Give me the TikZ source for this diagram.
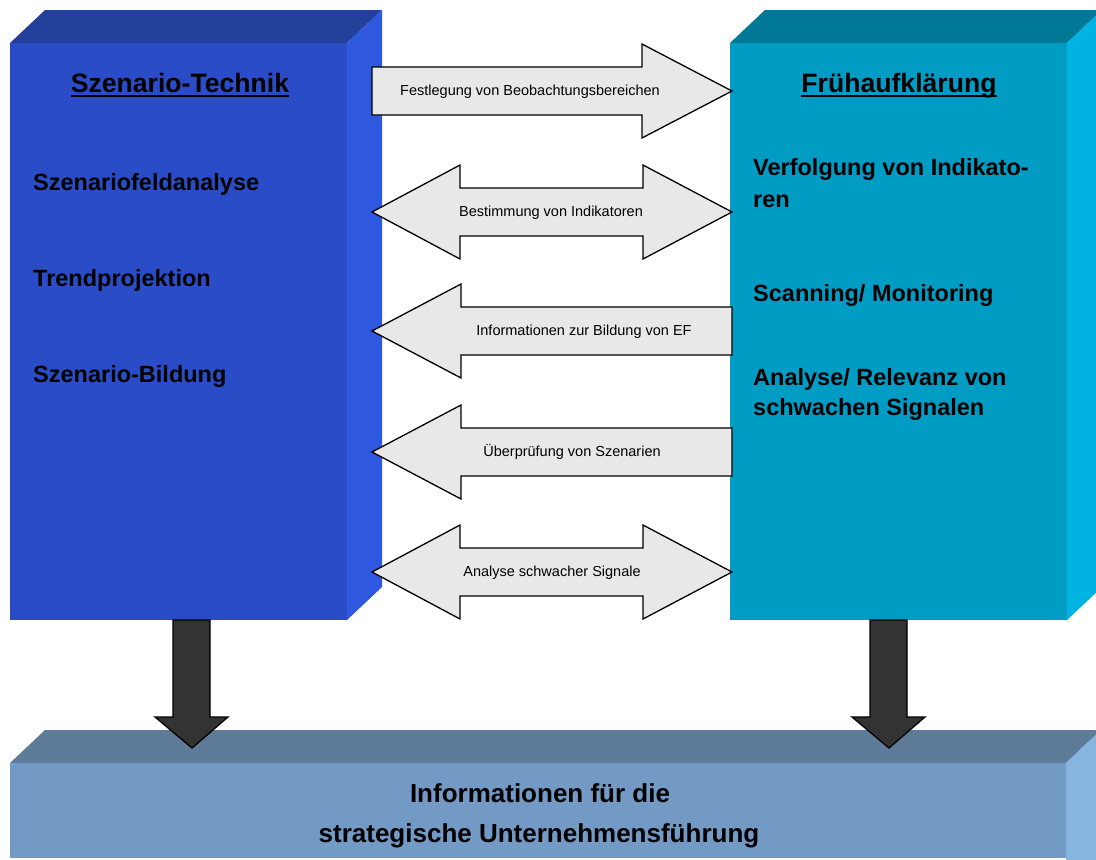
\documentclass[tikz,border=0pt]{standalone}
\usepackage{fontspec}
\setmainfont{Liberation Sans}
% face colours of the three blocks
\definecolor{lfront}{HTML}{2A4CC6}
\definecolor{ltop}{HTML}{23409A}
\definecolor{lside}{HTML}{2E58E0}
\definecolor{rfront}{HTML}{009CC4}
\definecolor{rtop}{HTML}{007896}
\definecolor{rside}{HTML}{00B3E2}
\definecolor{bfront}{HTML}{7399C5}
\definecolor{btop}{HTML}{5E7B99}
\definecolor{bside}{HTML}{88B4E0}
\definecolor{arrowgray}{HTML}{E8E8E8}
\definecolor{darkfill}{HTML}{333333}
\begin{document}
\begin{tikzpicture}[x=1pt,y=-1pt,
  blockarrow/.style={draw=black, line width=1.3pt, fill=arrowgray, line join=miter},
  downarrow/.style={draw=black, line width=1.3pt, fill=darkfill, line join=miter},
  arrowlabel/.style={font=\fontsize{14.5}{17}\selectfont, inner sep=0pt, anchor=base},
  item/.style={font=\bfseries\fontsize{23.5}{28}\selectfont, inner sep=0pt, anchor=base west},
  heading/.style={font=\bfseries\fontsize{26.6}{30}\selectfont, inner sep=0pt, anchor=base},
  footer/.style={font=\bfseries\fontsize{26}{30}\selectfont, inner sep=0pt, anchor=base},
  uline/.style={line width=2.2pt},
  % block arrows, drawn relative to their centre line
  rightblock/.pic={\draw[blockarrow] (372,-24) -- (642,-24) -- (642,-47) -- (732,0) -- (642,47) -- (642,24) -- (372,24) -- cycle;},
  leftblock/.pic={\draw[blockarrow] (732,-24) -- (461,-24) -- (461,-47) -- (372,0) -- (461,47) -- (461,24) -- (732,24) -- cycle;},
  bothblock/.pic={\draw[blockarrow] (372,0) -- (460,-47) -- (460,-24) -- (643,-24) -- (643,-47) -- (732,0) -- (643,47) -- (643,24) -- (460,24) -- (460,47) -- cycle;}
]
\useasboundingbox (0,0) rectangle (1096,860);
\begin{scope}
\clip (0,0) rectangle (1096,860);

% left block: Szenario-Technik
\fill[ltop] (10,43) -- (45,10) -- (382,10) -- (347,43) -- cycle;
\fill[lside] (347,43) -- (382,10) -- (382,587) -- (347,620) -- cycle;
\fill[lfront] (10,43) rectangle (347,620);

% right block: Frühaufklärung
\fill[rtop] (730,43) -- (765,10) -- (1102,10) -- (1067,43) -- cycle;
\fill[rside] (1067,43) -- (1102,10) -- (1102,587) -- (1067,620) -- cycle;
\fill[rfront] (730,43) rectangle (1067,620);

% bottom block
\fill[btop] (10,763) -- (45,730) -- (1101,730) -- (1066,763) -- cycle;
\fill[bside] (1066,763) -- (1101,730) -- (1101,860) -- (1066,860) -- cycle;
\fill[bfront] (10,763) rectangle (1066,858);
\end{scope}

% headings
\node[heading] (h1) at (180,92) {Szenario-Technik};
\draw[uline] ([yshift=-3.8pt]h1.base west) -- ([yshift=-3.8pt]h1.base east);
\node[heading] (h2) at (899,92) {Frühaufklärung};
\draw[uline] ([yshift=-3.8pt]h2.base west) -- ([yshift=-3.8pt]h2.base east);

% items of the left block
\node[item] (l1) at (33,190) {Szenariofeldanalyse};
\node[item] (l2) at (33,286) {Trendprojektion};
\node[item] (l3) at (33,382) {Szenario-Bildung};

% items of the right block
\node[item] (r1a) at (753,175) {Verfolgung von Indikato-};
\node[item] (r1b) at (753,207) {ren};
\node[item] (r2) at (753,301) {Scanning/ Monitoring};
\node[item] (r3a) at (753,385) {Analyse/ Relevanz von};
\node[item] (r3b) at (753,415) {schwachen Signalen};

% exchange arrows between the blocks
\pic at (0,91) {rightblock};
\node[arrowlabel] (a1) at (530,95.5) {Festlegung von Beobachtungsbereichen};
\pic at (0,212) {bothblock};
\node[arrowlabel] (a2) at (551,216.5) {Bestimmung von Indikatoren};
\pic at (0,331) {leftblock};
\node[arrowlabel] (a3) at (584,335.5) {Informationen zur Bildung von EF};
\pic at (0,452) {leftblock};
\node[arrowlabel] (a4) at (572,456.5) {Überprüfung von Szenarien};
\pic at (0,572) {bothblock};
\node[arrowlabel] (a5) at (552,576.5) {Analyse schwacher Signale};

% arrows down into the bottom block
\draw[downarrow] (173,620) -- (210,620) -- (210,717) -- (228,717) -- (192,748) -- (155,717) -- (173,717) -- cycle;
\draw[downarrow] (870,620) -- (907,620) -- (907,717) -- (925,717) -- (889,748) -- (852,717) -- (870,717) -- cycle;

% bottom text
\node[footer] (f1) at (540,802) {Informationen für die};
\node[footer] (f2) at (539,842) {strategische Unternehmensführung};
\end{tikzpicture}
\end{document}
